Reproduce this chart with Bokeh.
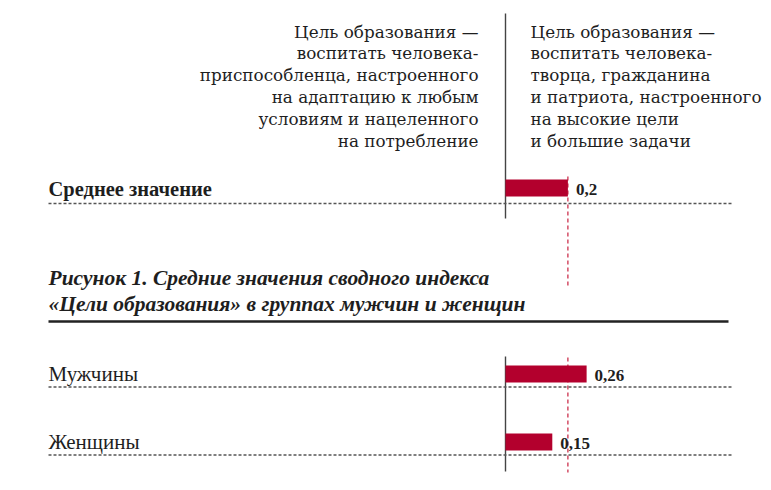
from bokeh.plotting import figure
from bokeh.models import Range1d, ColumnDataSource
from bokeh.core.properties import value
from bokeh.embed import file_html
from bokeh.resources import INLINE

# ---------------- data ----------------
left_header = ["Цель образования —", "воспитать человека-", "приспособленца, настроенного",
               "на адаптацию к любым", "условиям и нацеленного", "на потребление"]
right_header = ["Цель образования —", "воспитать человека-", "творца, гражданина",
                "и патриота, настроенного", "на высокие цели", "и большие задачи"]
top_groups = ["Среднее значение"]
top_values = [0.2]
title_lines = ["Рисунок 1. Средние значения сводного индекса",
               "«Цели образования» в группах мужчин и женщин"]
groups = ["Мужчины", "Женщины"]
group_values = [0.26, 0.15]
mean_value = 0.2

# ---------------- layout ----------------
W, H = 771, 490
ZERO_PX = 505.0
PX_PER_UNIT = 312.0
def xpx(px):
    return (px - ZERO_PX) / PX_PER_UNIT

RED = "#B3002D"
SERIF = "Liberation Serif"
HEAD = "DejaVu Serif"
TXT = "#1E1E1E"

p = figure(width=W, height=H, output_backend="svg", toolbar_location=None,
           x_range=Range1d(xpx(0), xpx(W)), y_range=Range1d(H, 0),
           min_border=0, min_border_left=0, min_border_right=0,
           min_border_top=0, min_border_bottom=0)
p.axis.visible = False
p.grid.visible = False
p.outline_line_color = None
p.background_fill_color = "white"
p.border_fill_color = "white"

fmt = lambda v: ("%g" % v).replace(".", ",")

# header texts
head_y = [31 + 21.8 * i for i in range(len(left_header))]
p.text(x=[xpx(478)] * len(left_header), y=head_y, text=left_header,
       text_font=value(HEAD), text_font_size="16.8px", text_align="right",
       text_baseline="alphabetic", text_color=TXT)
p.text(x=[xpx(530)] * len(right_header), y=head_y, text=right_header,
       text_font=value(HEAD), text_font_size="16.8px", text_align="left",
       text_baseline="alphabetic", text_color=TXT)

# rows
row_top = [187.5]
row_bottom = [373.5, 441.5]
bar_h = 17

# zero lines
p.segment(x0=[0, 0], x1=[0, 0], y0=[13, 356], y1=[218, 471], line_color="#444444", line_width=1.4)
# mean dashed line
p.segment(x0=[mean_value] * 2, x1=[mean_value] * 2, y0=[176, 357], y1=[288, 472],
          line_color="#C8203F", line_width=1.2, line_dash="4 3")

# horizontal dotted rules
rule_y = [r + 15.5 for r in row_top] + [r + 13 for r in row_bottom]
p.segment(x0=[xpx(48)] * 3, x1=[xpx(731)] * 3, y0=rule_y, y1=rule_y,
          line_color="#555555", line_width=1.5, line_dash="3 2")

# bars
src_top = ColumnDataSource(dict(y=row_top, v=top_values, lab=top_groups,
                                vl=[fmt(v) for v in top_values]))
src_b = ColumnDataSource(dict(y=row_bottom, v=group_values, lab=groups,
                              vl=[fmt(v) for v in group_values]))
for s in (src_top, src_b):
    p.hbar(y="y", left=0, right="v", height=bar_h, source=s, fill_color=RED, line_color=None)

# value labels
for s in (src_top, src_b):
    p.text(x="v", y="y", text="vl", source=s, x_offset=8, y_offset=1,
           text_font=value(SERIF), text_font_style="bold", text_font_size="17px",
           text_baseline="alphabetic", text_color=TXT)

# category labels
p.text(x=xpx(48), y="y", text="lab", source=src_top, y_offset=1,
       text_font=value(SERIF), text_font_style="bold", text_font_size="20.5px",
       text_baseline="alphabetic", text_color=TXT)
p.text(x=xpx(48), y="y", text="lab", source=src_b, y_offset=0,
       text_font=value(SERIF), text_font_size="21px",
       text_baseline="alphabetic", text_color=TXT)

# title
p.text(x=[xpx(48)] * 2, y=[277, 303], text=title_lines,
       text_font=value(SERIF), text_font_style="bold italic", text_font_size="21.5px",
       text_baseline="alphabetic", text_color=TXT)
p.segment(x0=[xpx(48)], x1=[xpx(728)], y0=[321], y1=[321], line_color="#222222", line_width=2.5)

open("out.html", "w").write(file_html(p, INLINE))
